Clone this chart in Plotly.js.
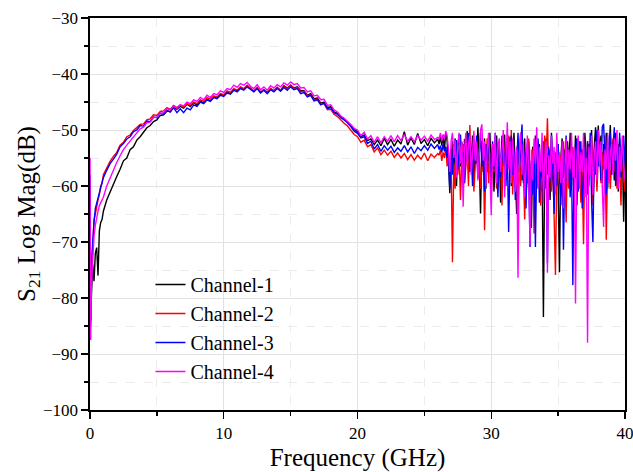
<!DOCTYPE html>
<html>
<head>
<meta charset="utf-8">
<script src="https://cdn.plot.ly/plotly-3.0.1.min.js"></script>
<style>
html,body{margin:0;padding:0;background:#fff;}
#chart{width:633px;height:472px;}
</style>
</head>
<body>
<div id="chart"></div>
<script>
// Frequency sample points (GHz)
const freqLow = [0, 0.05, 0.1, 0.2, 0.3, 0.4, 0.5, 0.6, 0.7, 0.8, 0.9];
const freqMid = [1, 1.25, 1.5, 1.75, 2, 2.25, 2.5, 2.75, 3, 3.25, 3.5, 3.75, 4, 4.25, 4.5, 4.75,
  5, 5.25, 5.5, 5.75, 6, 6.25, 6.5, 6.75, 7, 7.25, 7.5, 7.75, 8, 8.25, 8.5, 8.75,
  9, 9.25, 9.5, 9.75, 10, 10.25, 10.5, 10.75, 11, 11.25, 11.5, 11.75, 12, 12.25, 12.5, 12.75,
  13, 13.25, 13.5, 13.75, 14, 14.25, 14.5, 14.75, 15, 15.25, 15.5, 15.75, 16, 16.25, 16.5, 16.75,
  17, 17.25, 17.5, 17.75, 18, 18.25, 18.5, 18.75, 19, 19.25, 19.5, 19.75, 20, 20.25, 20.5, 20.75,
  21, 21.25, 21.5, 21.75, 22, 22.25, 22.5, 22.75, 23, 23.25, 23.5, 23.75, 24, 24.25, 24.5, 24.75,
  25, 25.25, 25.5, 25.75, 26];
const freqHigh = [26.1, 26.2, 26.3, 26.4, 26.5, 26.6, 26.7, 26.8, 26.9, 27.0,
  27.1, 27.2, 27.3, 27.4, 27.5, 27.6, 27.7, 27.8, 27.9, 28.0,
  28.1, 28.2, 28.3, 28.4, 28.5, 28.6, 28.7, 28.8, 28.9, 29.0,
  29.1, 29.2, 29.3, 29.4, 29.5, 29.6, 29.7, 29.8, 29.9, 30.0,
  30.1, 30.2, 30.3, 30.4, 30.5, 30.6, 30.7, 30.8, 30.9, 31.0,
  31.1, 31.2, 31.3, 31.4, 31.5, 31.6, 31.7, 31.8, 31.9, 32.0,
  32.1, 32.2, 32.3, 32.4, 32.5, 32.6, 32.7, 32.8, 32.9, 33.0,
  33.1, 33.2, 33.3, 33.4, 33.5, 33.6, 33.7, 33.8, 33.9, 34.0,
  34.1, 34.2, 34.3, 34.4, 34.5, 34.6, 34.7, 34.8, 34.9, 35.0,
  35.1, 35.2, 35.3, 35.4, 35.5, 35.6, 35.7, 35.8, 35.9, 36.0,
  36.1, 36.2, 36.3, 36.4, 36.5, 36.6, 36.7, 36.8, 36.9, 37.0,
  37.1, 37.2, 37.3, 37.4, 37.5, 37.6, 37.7, 37.8, 37.9, 38.0,
  38.1, 38.2, 38.3, 38.4, 38.5, 38.6, 38.7, 38.8, 38.9, 39.0,
  39.1, 39.2, 39.3, 39.4, 39.5, 39.6, 39.7, 39.8, 39.9, 40.0];
const freq = freqLow.concat(freqMid, freqHigh);

// S21 (dB) per channel
const channel1 = [
  -62, -84, -80, -74, -77, -72, -71, -76, -68, -66.5, -66,
  -64.5, -62.5, -61.0, -59.8, -58.3, -57.0, -55.5, -55.0, -53.5, -53.0, -51.8, -51.2,
  -50.4, -49.6, -49.2, -48.5, -48.2, -47.4, -47.3, -46.6, -46.7, -46.0, -46.3, -45.8,
  -46.1, -45.4, -45.8, -45.1, -45.6, -44.8, -45.2, -44.5, -44.8, -44.1, -44.3, -43.6,
  -43.8, -43.2, -43.4, -42.8, -43.0, -42.4, -42.7, -42.2, -42.6, -43.1, -42.5, -43.3,
  -42.8, -43.3, -42.6, -43.0, -42.4, -42.9, -42.1, -42.5, -42.0, -42.5, -42.3, -43.0,
  -43.0, -43.8, -43.5, -44.4, -44.3, -45.2, -45.0, -46.0, -45.8, -46.8, -47.0, -47.6,
  -48.0, -48.6, -49.2, -49.9, -50.3, -51.2, -50.9, -51.9, -51.6, -52.6, -51.8, -52.8,
  -51.5, -52.6, -51.7, -52.9, -51.8, -52.5, -50.3, -52.7, -51.4, -52.6, -50.6, -52.4,
  -51.7, -52.8, -51.5, -52.3, -51.6,
  -52.5, -51.2, -52.8, -51.0, -53.5, -50.5, -52.0, -55.5, -61.3, -56.0,
  -52.0, -57.5, -51.5, -60.0, -53.0, -50.8, -56.5, -52.2, -58.5, -51.6,
  -54.0, -50.2, -57.0, -52.5, -55.8, -51.0, -59.5, -53.5, -56.0, -49.5,
  -55.0, -64.9, -52.0, -57.5, -51.5, -60.5, -53.0, -55.5, -50.5, -58.0,
  -52.5, -61.0, -54.5, -51.0, -57.0, -53.5, -63.0, -52.0, -56.5, -50.8,
  -58.5, -53.0, -55.0, -51.2, -60.0, -54.5, -50.5, -57.5, -65.0, -52.5,
  -56.0, -50.5, -59.0, -54.0, -51.5, -62.0, -55.5, -52.0, -58.0, -67.5,
  -53.0, -57.5, -51.0, -60.5, -54.0, -52.5, -61.0, -56.0, -83.4, -55.0,
  -51.5, -58.0, -53.5, -62.5, -50.5, -57.0, -54.5, -60.0, -53.0, -59.5,
  -75.4, -55.0, -51.5, -58.5, -53.5, -62.0, -52.0, -56.5, -50.5, -60.0,
  -54.5, -57.5, -51.0, -63.5, -55.5, -52.0, -59.0, -53.5, -57.0, -50.5,
  -55.5, -61.5, -52.5, -57.5, -50.0, -58.5, -53.0, -49.5, -56.5, -49.2,
  -54.0, -51.0, -59.5, -52.5, -56.0, -50.5, -60.5, -53.0, -49.1, -57.0,
  -52.0, -59.0, -50.5, -55.5, -61.0, -51.5, -57.0, -53.0, -66.4, -55.0];

const channel2 = [
  -60, -85, -76, -70, -66, -65, -63.5, -62.5, -61.5, -60, -59.5,
  -58.0, -56.8, -55.6, -54.7, -54.0, -52.7, -52.2, -51.2, -50.9, -50.1, -49.6, -49.0,
  -48.9, -48.2, -48.0, -47.3, -47.4, -46.7, -46.6, -46.0, -46.3, -45.6, -46.0, -45.5,
  -45.9, -45.3, -45.6, -45.0, -45.3, -44.6, -44.9, -44.2, -44.5, -43.9, -44.1, -43.5,
  -43.7, -43.0, -43.3, -42.6, -42.9, -42.3, -42.6, -42.0, -42.5, -43.0, -42.4, -43.2,
  -42.8, -43.4, -42.6, -43.0, -42.4, -42.9, -42.2, -42.6, -42.0, -42.6, -42.4, -43.2,
  -43.1, -43.9, -43.7, -44.6, -44.5, -45.4, -45.3, -46.4, -46.3, -47.2, -47.6, -48.3,
  -48.8, -49.3, -50.1, -50.8, -51.2, -52.2, -51.8, -53.0, -52.6, -53.9, -53.2, -54.4,
  -53.6, -54.5, -53.8, -54.9, -54.1, -55.0, -54.2, -55.3, -54.4, -55.4, -54.5, -55.2,
  -54.1, -55.5, -54.3, -54.9, -54.2,
  -54.5, -53.5, -55.5, -54.0, -55.0, -53.0, -56.5, -54.5, -58.0, -55.5,
  -73.6, -56.0, -60.5, -53.5, -58.0, -54.5, -62.5, -55.0, -52.5, -59.5,
  -56.5, -53.5, -60.0, -49.1, -57.5, -54.0, -61.0, -55.5, -52.0, -58.5,
  -54.5, -60.5, -56.0, -53.0, -67.9, -55.5, -51.5, -59.5, -54.0, -62.0,
  -53.0, -57.5, -55.0, -60.5, -52.5, -58.0, -54.5, -63.5, -52.0, -56.5,
  -59.0, -54.0, -51.0, -57.5, -50.0, -61.5, -55.5, -58.5, -53.0, -64.0,
  -55.0, -60.0, -52.5, -57.0, -66.0, -54.0, -59.5, -51.5, -62.5, -56.0,
  -53.5, -68.5, -55.5, -60.0, -52.0, -57.0, -63.5, -54.5, -59.0, -51.0,
  -56.0, -47.9, -58.0, -53.5, -61.0, -55.0, -64.5, -75.9, -57.5, -52.5,
  -59.5, -54.5, -62.0, -52.0, -57.0, -66.5, -53.5, -60.5, -55.0, -58.5,
  -53.0, -61.5, -56.5, -51.5, -59.0, -54.5, -63.0, -57.0, -70.4, -53.5,
  -58.5, -52.0, -60.0, -55.5, -51.5, -63.5, -57.0, -53.0, -61.0, -55.0,
  -52.5, -59.5, -54.0, -57.0, -51.0, -69.6, -56.0, -53.5, -60.5, -55.5,
  -51.5, -57.5, -53.0, -60.5, -52.5, -56.0, -63.5, -54.0, -58.0, -61.0];

const channel3 = [
  -58, -84, -74, -69, -66.5, -64, -63, -62, -61, -60.3, -59.5,
  -58.5, -57.2, -56.0, -55.2, -54.3, -53.0, -52.4, -51.6, -51.2, -50.3, -50.0, -49.2,
  -49.3, -48.4, -48.5, -47.7, -47.8, -47.0, -47.2, -46.5, -46.8, -46.0, -46.9, -46.2,
  -46.9, -46.1, -46.4, -45.5, -45.8, -45.0, -45.3, -44.6, -44.9, -44.2, -44.4, -43.8,
  -44.0, -43.4, -43.6, -42.9, -43.2, -42.6, -42.9, -42.3, -42.7, -43.2, -42.6, -43.4,
  -42.9, -43.5, -42.8, -43.2, -42.6, -43.1, -42.4, -42.9, -42.3, -42.8, -42.6, -43.5,
  -43.3, -44.1, -43.8, -44.8, -44.6, -45.5, -45.2, -46.2, -46.0, -46.9, -47.2, -47.8,
  -48.2, -48.7, -49.4, -50.2, -50.6, -51.4, -51.2, -52.4, -52.0, -53.4, -52.6, -53.8,
  -52.8, -53.6, -52.9, -54.0, -53.2, -53.8, -52.8, -53.9, -53.0, -54.2, -53.1, -53.7,
  -52.8, -53.6, -52.5, -53.3, -52.6,
  -53.5, -52.8, -54.0, -52.5, -53.8, -53.0, -55.0, -54.0, -60.5, -53.5,
  -58.0, -52.5, -55.5, -51.8, -57.0, -53.5, -50.8, -56.0, -54.0, -59.5,
  -52.5, -55.5, -50.5, -57.5, -53.0, -60.0, -52.0, -56.0, -51.0, -58.5,
  -54.0, -50.5, -56.5, -53.0, -61.0, -52.5, -57.5, -51.5, -55.0, -59.0,
  -52.0, -57.0, -50.5, -55.5, -62.0, -53.0, -58.5, -51.0, -56.0, -54.0,
  -60.0, -53.0, -68.2, -55.0, -51.0, -58.0, -53.5, -62.5, -55.0, -50.5,
  -57.5, -53.0, -49.0, -59.5, -54.0, -64.0, -52.5, -57.0, -70.9, -55.5,
  -61.5, -53.0, -70.9, -56.0, -51.5, -63.0, -54.5, -58.5, -52.0, -60.5,
  -55.5, -73.8, -53.0, -59.0, -51.0, -56.5, -65.0, -54.0, -60.0, -52.5,
  -57.0, -63.5, -54.5, -71.4, -56.0, -51.0, -59.5, -54.0, -62.0, -55.0,
  -77.7, -53.5, -58.5, -51.5, -61.0, -55.5, -52.0, -64.0, -56.5, -53.0,
  -59.5, -52.0, -57.0, -50.5, -62.5, -70.0, -54.0, -58.0, -50.0, -56.5,
  -52.5, -59.0, -49.5, -48.9, -55.0, -61.5, -51.0, -57.5, -50.5, -58.0,
  -53.5, -49.5, -60.0, -52.0, -56.5, -50.5, -58.5, -54.0, -51.0, -56.0];

const channel4 = [
  -55, -87.5, -78, -72, -69, -67, -65.5, -64.5, -63.5, -63, -62.5,
  -62.0, -60.0, -58.5, -57.0, -55.8, -54.6, -53.5, -52.7, -52.0, -51.2, -50.6, -49.8,
  -49.5, -48.7, -48.6, -47.8, -47.7, -47.0, -46.9, -46.2, -46.4, -45.7, -46.1, -45.5,
  -45.7, -45.0, -45.3, -44.6, -44.9, -44.2, -44.6, -43.8, -44.2, -43.5, -43.7, -43.0,
  -43.3, -42.6, -42.8, -42.0, -42.4, -41.7, -42.0, -41.5, -42.2, -42.6, -41.9, -42.8,
  -42.3, -42.9, -42.1, -42.5, -41.9, -42.3, -41.6, -42.0, -41.4, -41.9, -41.7, -42.5,
  -42.4, -43.2, -43.0, -43.9, -43.8, -44.6, -44.5, -45.6, -45.5, -46.4, -46.8, -47.5,
  -47.9, -48.4, -49.0, -49.7, -50.0, -51.0, -50.4, -51.6, -51.0, -52.2, -51.2, -52.3,
  -51.2, -52.0, -51.0, -52.1, -51.0, -51.9, -50.8, -52.0, -51.2, -52.1, -51.0, -51.8,
  -51.1, -52.0, -50.9, -51.7, -51.3,
  -51.5, -50.5, -52.0, -50.8, -51.5, -50.2, -51.0, -53.5, -57.5, -52.0,
  -50.5, -55.0, -51.8, -58.5, -52.5, -50.5, -56.0, -52.0, -63.7, -53.5,
  -50.5, -56.5, -52.5, -51.0, -58.0, -53.0, -50.2, -55.5, -52.0, -59.0,
  -53.5, -50.0, -49.0, -55.5, -52.0, -60.0, -53.5, -50.5, -57.0, -65.2,
  -52.5, -56.5, -50.5, -59.5, -53.0, -51.5, -57.5, -54.5, -50.0, -62.0,
  -53.5, -48.6, -57.0, -52.0, -59.5, -51.5, -55.0, -61.0, -53.0, -76.4,
  -54.5, -50.5, -58.0, -52.5, -62.0, -55.0, -51.0, -57.5, -70.5, -53.5,
  -59.0, -51.5, -56.0, -49.5, -60.5, -53.0, -57.5, -50.5, -63.0, -55.0,
  -52.0, -75.5, -54.5, -58.5, -51.0, -56.0, -53.0, -61.5, -50.5, -57.5,
  -54.0, -59.5, -52.0, -64.0, -55.5, -51.5, -60.0, -53.5, -57.0, -50.5,
  -58.5, -53.0, -81.0, -55.5, -51.0, -60.5, -54.0, -57.5, -50.5, -62.0,
  -55.0, -88.0, -53.0, -58.0, -51.0, -61.5, -54.5, -52.0, -59.0, -50.0,
  -56.5, -52.0, -60.0, -67.3, -53.5, -57.0, -50.5, -59.5, -54.0, -52.5,
  -58.0, -51.5, -55.5, -50.0, -60.5, -53.0, -57.5, -51.0, -56.0, -59.0];

const seriesNames = ['Channel-1', 'Channel-2', 'Channel-3', 'Channel-4'];
const seriesData = [channel1, channel2, channel3, channel4];
const seriesColors = ['#000000', '#ff0000', '#0000ff', '#ff00ff'];

const xTicks = [0, 10, 20, 30, 40];
const yTicks = [-100, -90, -80, -70, -60, -50, -40, -30];

const traces = seriesData.map((vals, i) => ({
  x: freq,
  y: vals,
  type: 'scatter',
  mode: 'lines',
  name: seriesNames[i],
  line: {color: seriesColors[i], width: 1.4}
}));

const FONT = '"Liberation Serif", "Times New Roman", serif';

const layout = {
  width: 633,
  height: 472,
  margin: {l: 90, r: 8, t: 18, b: 62},
  paper_bgcolor: '#ffffff',
  plot_bgcolor: '#ffffff',
  font: {family: FONT, color: '#000'},
  showlegend: true,
  legend: {
    x: 0.113, y: 0.37, xanchor: 'left', yanchor: 'top',
    bgcolor: 'rgba(0,0,0,0)',
    font: {family: FONT, size: 20, color: '#000'},
    tracegroupgap: 0
  },
  xaxis: {
    range: [0, 40],
    tickvals: xTicks,
    ticktext: xTicks.map(String),
    ticklabeloverflow: 'allow',
    ticks: 'outside', ticklen: 7, tickwidth: 1.3, tickcolor: '#000',
    showline: true, linecolor: '#000', linewidth: 1.6, mirror: true,
    showgrid: true, gridcolor: '#e2e2e2', gridwidth: 1,
    zeroline: false,
    tickfont: {family: FONT, size: 17, color: '#000'},
    minor: {dtick: 5, ticks: 'outside', ticklen: 4, tickcolor: '#000', showgrid: true, gridcolor: '#ececec', griddash: 'dash'},
    title: {text: 'Frequency (GHz)', font: {family: FONT, size: 25, color: '#000'}, standoff: 6}
  },
  yaxis: {
    range: [-100, -30],
    tickvals: yTicks,
    ticks: 'outside', ticklen: 7, tickwidth: 1.3, tickcolor: '#000',
    showline: true, linecolor: '#000', linewidth: 1.6, mirror: true,
    showgrid: true, gridcolor: '#e2e2e2', gridwidth: 1,
    zeroline: false,
    tickfont: {family: FONT, size: 17, color: '#000'},
    minor: {dtick: 5, ticks: 'outside', ticklen: 4, tickcolor: '#000', showgrid: true, gridcolor: '#ececec', griddash: 'dash'},
    title: {text: 'S<sub>21</sub> Log Mag(dB)', font: {family: FONT, size: 25, color: '#000'}, standoff: 0}
  }
};

Plotly.newPlot('chart', traces, layout, {displayModeBar: false, staticPlot: true});
</script>
</body>
</html>
